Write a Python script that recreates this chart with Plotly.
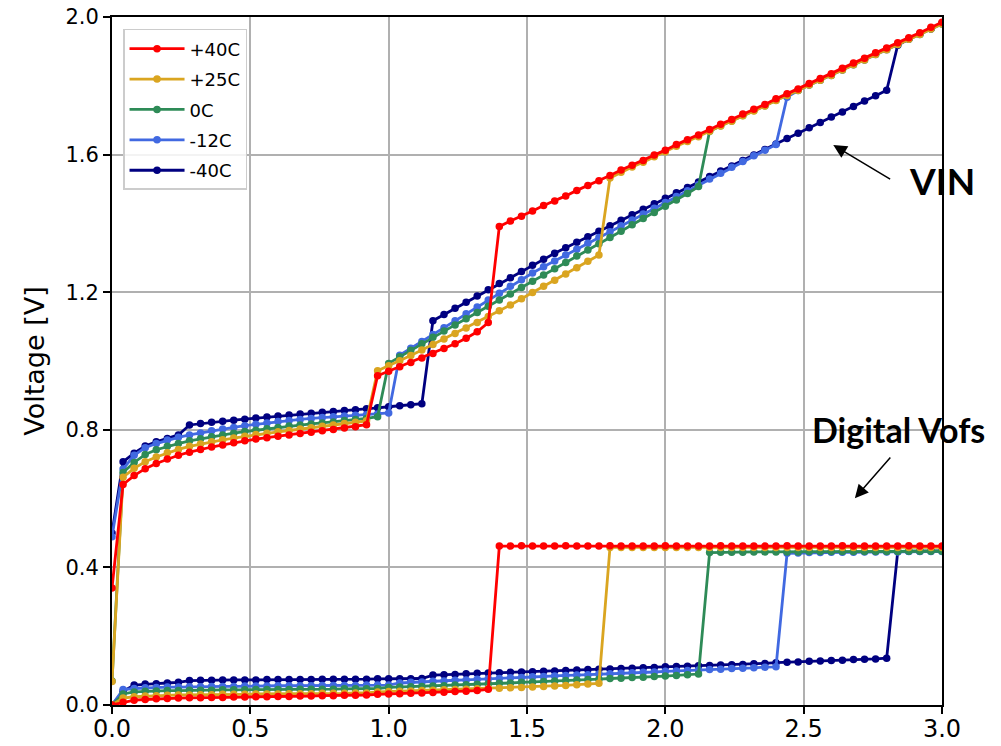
import plotly.graph_objects as go

# Sweep positions (x axis)
x = [0.00, 0.04, 0.08, 0.12, 0.16, 0.20, 0.24, 0.28, 0.32, 0.36,
     0.40, 0.44, 0.48, 0.52, 0.56, 0.60, 0.64, 0.68, 0.72, 0.76,
     0.80, 0.84, 0.88, 0.92, 0.96, 1.00, 1.04, 1.08, 1.12, 1.16,
     1.20, 1.24, 1.28, 1.32, 1.36, 1.40, 1.44, 1.48, 1.52, 1.56,
     1.60, 1.64, 1.68, 1.72, 1.76, 1.80, 1.84, 1.88, 1.92, 1.96,
     2.00, 2.04, 2.08, 2.12, 2.16, 2.20, 2.24, 2.28, 2.32, 2.36,
     2.40, 2.44, 2.48, 2.52, 2.56, 2.60, 2.64, 2.68, 2.72, 2.76,
     2.80, 2.84, 2.88, 2.92, 2.96, 3.00]

# VIN per temperature
vin_p40 = [0.340, 0.641, 0.667, 0.687, 0.702, 0.715, 0.726, 0.735, 0.743, 0.750,
           0.756, 0.762, 0.768, 0.773, 0.777, 0.781, 0.785, 0.789, 0.793, 0.797,
           0.801, 0.805, 0.809, 0.815, 0.957, 0.970, 0.983, 0.996, 1.009, 1.022,
           1.036, 1.050, 1.066, 1.085, 1.112, 1.391, 1.407, 1.421, 1.436, 1.452,
           1.465, 1.480, 1.496, 1.510, 1.524, 1.539, 1.555, 1.569, 1.583, 1.599,
           1.613, 1.629, 1.643, 1.657, 1.673, 1.688, 1.702, 1.718, 1.732, 1.746,
           1.762, 1.777, 1.791, 1.807, 1.821, 1.835, 1.851, 1.866, 1.880, 1.896,
           1.910, 1.925, 1.940, 1.954, 1.970, 1.985]
vin_p25 = [0.068, 0.662, 0.688, 0.707, 0.721, 0.733, 0.743, 0.752, 0.759, 0.765,
           0.771, 0.776, 0.781, 0.786, 0.790, 0.794, 0.798, 0.802, 0.806, 0.810,
           0.814, 0.818, 0.822, 0.826, 0.972, 0.986, 1.001, 1.016, 1.032, 1.048,
           1.064, 1.080, 1.096, 1.112, 1.129, 1.146, 1.163, 1.181, 1.199, 1.217,
           1.235, 1.253, 1.271, 1.290, 1.308, 1.532, 1.549, 1.564, 1.578, 1.594,
           1.608, 1.624, 1.638, 1.652, 1.668, 1.683, 1.697, 1.713, 1.727, 1.741,
           1.757, 1.772, 1.786, 1.802, 1.816, 1.830, 1.846, 1.861, 1.875, 1.891,
           1.905, 1.920, 1.935, 1.949, 1.965, 1.980]
vin_0 = [0.070, 0.676, 0.705, 0.728, 0.742, 0.752, 0.760, 0.768, 0.774, 0.780,
         0.785, 0.790, 0.795, 0.799, 0.803, 0.807, 0.811, 0.814, 0.817, 0.820,
         0.823, 0.827, 0.830, 0.833, 0.838, 0.993, 1.012, 1.031, 1.050, 1.069,
         1.087, 1.105, 1.123, 1.141, 1.159, 1.177, 1.195, 1.214, 1.232, 1.250,
         1.268, 1.286, 1.305, 1.323, 1.341, 1.359, 1.377, 1.396, 1.414, 1.432,
         1.450, 1.468, 1.487, 1.507, 1.668, 1.684, 1.698, 1.714, 1.728, 1.742,
         1.758, 1.773, 1.787, 1.803, 1.817, 1.831, 1.847, 1.862, 1.876, 1.892,
         1.906, 1.921, 1.936, 1.950, 1.966, 1.981]
vin_m12 = [0.489, 0.686, 0.726, 0.748, 0.760, 0.770, 0.778, 0.785, 0.791, 0.797,
           0.802, 0.807, 0.812, 0.816, 0.820, 0.824, 0.827, 0.830, 0.833, 0.836,
           0.838, 0.840, 0.842, 0.844, 0.846, 0.849, 1.017, 1.037, 1.057, 1.077,
           1.097, 1.117, 1.137, 1.157, 1.177, 1.197, 1.217, 1.236, 1.256, 1.274,
           1.291, 1.308, 1.325, 1.342, 1.359, 1.376, 1.393, 1.410, 1.427, 1.444,
           1.461, 1.478, 1.495, 1.512, 1.529, 1.546, 1.563, 1.580, 1.597, 1.613,
           1.629, 1.767, 1.786, 1.802, 1.816, 1.830, 1.846, 1.861, 1.875, 1.891,
           1.905, 1.920, 1.935, 1.949, 1.965, 1.980]
vin_m40 = [0.500, 0.707, 0.732, 0.753, 0.765, 0.775, 0.785, 0.814, 0.818, 0.822,
           0.825, 0.828, 0.831, 0.834, 0.837, 0.840, 0.843, 0.846, 0.848, 0.851,
           0.853, 0.856, 0.858, 0.861, 0.864, 0.867, 0.870, 0.873, 0.876, 1.117,
           1.135, 1.153, 1.171, 1.189, 1.207, 1.225, 1.242, 1.260, 1.278, 1.296,
           1.313, 1.329, 1.345, 1.361, 1.377, 1.393, 1.409, 1.425, 1.441, 1.457,
           1.473, 1.489, 1.504, 1.520, 1.536, 1.552, 1.567, 1.583, 1.599, 1.615,
           1.631, 1.647, 1.662, 1.678, 1.693, 1.709, 1.724, 1.740, 1.756, 1.771,
           1.787, 1.918, 1.936, 1.951, 1.966, 1.982]

# Digital Vofs per temperature
vofs_p40 = [0.000, 0.008, 0.014, 0.016, 0.018, 0.019, 0.020, 0.021, 0.021, 0.022,
            0.022, 0.023, 0.023, 0.024, 0.024, 0.025, 0.025, 0.026, 0.026, 0.027,
            0.027, 0.028, 0.028, 0.029, 0.031, 0.032, 0.033, 0.034, 0.035, 0.036,
            0.037, 0.039, 0.040, 0.042, 0.046, 0.462, 0.462, 0.463, 0.462, 0.462,
            0.462, 0.463, 0.462, 0.462, 0.462, 0.463, 0.462, 0.462, 0.462, 0.462,
            0.463, 0.462, 0.462, 0.462, 0.462, 0.463, 0.462, 0.462, 0.462, 0.462,
            0.462, 0.463, 0.462, 0.462, 0.462, 0.462, 0.463, 0.462, 0.462, 0.462,
            0.462, 0.462, 0.463, 0.462, 0.462, 0.462]
vofs_p25 = [0.000, 0.020, 0.024, 0.026, 0.027, 0.028, 0.029, 0.029, 0.030, 0.030,
            0.031, 0.031, 0.031, 0.032, 0.032, 0.032, 0.033, 0.033, 0.033, 0.034,
            0.034, 0.034, 0.035, 0.035, 0.038, 0.039, 0.040, 0.041, 0.042, 0.043,
            0.044, 0.045, 0.046, 0.047, 0.048, 0.049, 0.050, 0.051, 0.052, 0.054,
            0.055, 0.057, 0.059, 0.061, 0.063, 0.458, 0.458, 0.458, 0.458, 0.458,
            0.458, 0.458, 0.458, 0.458, 0.458, 0.458, 0.458, 0.458, 0.458, 0.458,
            0.458, 0.458, 0.458, 0.458, 0.458, 0.458, 0.458, 0.458, 0.458, 0.458,
            0.458, 0.458, 0.458, 0.458, 0.458, 0.458]
vofs_0 = [0.000, 0.032, 0.038, 0.040, 0.041, 0.042, 0.042, 0.043, 0.043, 0.043,
          0.044, 0.044, 0.044, 0.045, 0.045, 0.045, 0.045, 0.046, 0.046, 0.046,
          0.046, 0.047, 0.047, 0.047, 0.048, 0.051, 0.052, 0.053, 0.054, 0.055,
          0.056, 0.058, 0.059, 0.060, 0.062, 0.063, 0.064, 0.066, 0.067, 0.068,
          0.070, 0.071, 0.073, 0.074, 0.075, 0.077, 0.078, 0.080, 0.081, 0.083,
          0.084, 0.086, 0.088, 0.090, 0.443, 0.444, 0.444, 0.444, 0.445, 0.445,
          0.445, 0.445, 0.445, 0.446, 0.446, 0.446, 0.446, 0.446, 0.446, 0.446,
          0.446, 0.446, 0.447, 0.447, 0.447, 0.447]
vofs_m12 = [0.000, 0.045, 0.048, 0.050, 0.051, 0.052, 0.052, 0.053, 0.053, 0.054,
            0.054, 0.054, 0.055, 0.055, 0.055, 0.056, 0.056, 0.056, 0.056, 0.057,
            0.057, 0.057, 0.057, 0.058, 0.058, 0.058, 0.064, 0.066, 0.067, 0.069,
            0.070, 0.072, 0.073, 0.075, 0.076, 0.077, 0.079, 0.080, 0.082, 0.083,
            0.084, 0.086, 0.087, 0.088, 0.090, 0.091, 0.092, 0.094, 0.095, 0.096,
            0.098, 0.099, 0.100, 0.102, 0.103, 0.104, 0.106, 0.107, 0.108, 0.110,
            0.111, 0.441, 0.442, 0.443, 0.443, 0.444, 0.444, 0.444, 0.445, 0.445,
            0.445, 0.445, 0.446, 0.446, 0.446, 0.446]
vofs_m40 = [0.000, 0.040, 0.058, 0.061, 0.062, 0.064, 0.066, 0.071, 0.072, 0.072,
            0.073, 0.073, 0.073, 0.073, 0.074, 0.074, 0.074, 0.074, 0.074, 0.075,
            0.075, 0.075, 0.075, 0.075, 0.076, 0.076, 0.076, 0.076, 0.077, 0.087,
            0.088, 0.089, 0.091, 0.092, 0.093, 0.094, 0.095, 0.096, 0.097, 0.098,
            0.099, 0.100, 0.102, 0.103, 0.104, 0.105, 0.106, 0.107, 0.108, 0.109,
            0.111, 0.112, 0.113, 0.114, 0.115, 0.116, 0.117, 0.118, 0.120, 0.121,
            0.123, 0.124, 0.125, 0.127, 0.128, 0.129, 0.130, 0.132, 0.133, 0.134,
            0.136, 0.446, 0.447, 0.447, 0.448, 0.448]

labels = ["+40C", "+25C", "0C", "-12C", "-40C"]
colors = ["#ff0000", "#daa520", "#2e8b57", "#4169e1", "#000080"]
vin_sets = [vin_p40, vin_p25, vin_0, vin_m12, vin_m40]
vofs_sets = [vofs_p40, vofs_p25, vofs_0, vofs_m12, vofs_m40]

fig = go.Figure()

# draw coldest first so the +40C curves sit on top
for rank in reversed(range(len(labels))):
    name, color = labels[rank], colors[rank]
    style = dict(mode="lines+markers",
                 line=dict(color=color, width=2.8),
                 marker=dict(color=color, size=7.5),
                 legendgroup=name, name=name, legendrank=rank + 1)
    fig.add_trace(go.Scatter(x=x, y=vin_sets[rank], showlegend=True, **style))
    fig.add_trace(go.Scatter(x=x, y=vofs_sets[rank], showlegend=False, **style))

fig.update_xaxes(range=[0, 3.0], tickvals=[0, 0.5, 1.0, 1.5, 2.0, 2.5, 3.0],
                 ticktext=["0.0", "0.5", "1.0", "1.5", "2.0", "2.5", "3.0"],
                 tickfont=dict(family="DejaVu Sans", size=24, color="black"),
                 ticklabelstandoff=-6,
                 ticks="outside", ticklen=7, tickwidth=1.6,
                 tickcolor="black", showline=True, linecolor="black", linewidth=2,
                 mirror=True, showgrid=True, gridcolor="#b0b0b0", gridwidth=1.6,
                 zeroline=False)
fig.update_yaxes(range=[0, 2.0], tickvals=[0, 0.4, 0.8, 1.2, 1.6, 2.0],
                 ticktext=["0.0", "0.4", "0.8", "1.2", "1.6", "2.0"],
                 tickfont=dict(family="DejaVu Sans", size=21, color="black"),
                 ticks="outside", ticklen=7, tickwidth=1.6, tickcolor="black",
                 showline=True, linecolor="black", linewidth=2, mirror=True,
                 showgrid=True, gridcolor="#b0b0b0", gridwidth=1.6, zeroline=False,
                 title=dict(text="Voltage [V]", standoff=13,
                            font=dict(family="DejaVu Sans", size=27, color="black")))

label_font = dict(family="Lato, Open Sans, sans-serif", size=37, color="black", weight="bold")
fig.add_annotation(x=3.0, y=1.526, xref="x", yref="y", text="VIN",
                   showarrow=False, font=label_font)
fig.add_annotation(x=2.841, y=0.80, xref="x", yref="y", text="Digital Vofs",
                   showarrow=False, font=dict(label_font, size=34))
fig.add_annotation(x=2.607, y=1.628, ax=2.818, ay=1.526, xref="x", yref="y",
                   axref="x", ayref="y", text="", showarrow=True, arrowhead=2,
                   arrowsize=1.8, arrowwidth=1.5, arrowcolor="black", standoff=0)
fig.add_annotation(x=2.685, y=0.601, ax=2.818, ay=0.724, xref="x", yref="y",
                   axref="x", ayref="y", text="", showarrow=True, arrowhead=2,
                   arrowsize=1.8, arrowwidth=1.5, arrowcolor="black", standoff=0)

fig.update_layout(
    width=1001, height=746,
    margin=dict(l=112, r=59, t=17, b=41, autoexpand=False),
    paper_bgcolor="white", plot_bgcolor="white",
    legend=dict(x=0.0133, y=0.9826, xanchor="left", yanchor="top",
                bgcolor="rgba(255,255,255,0.85)", bordercolor="#cccccc",
                borderwidth=1.5, font=dict(family="DejaVu Sans", size=18, color="black"),
                tracegroupgap=4, itemwidth=55, traceorder="grouped"),
)

fig.write_html("out.html")
